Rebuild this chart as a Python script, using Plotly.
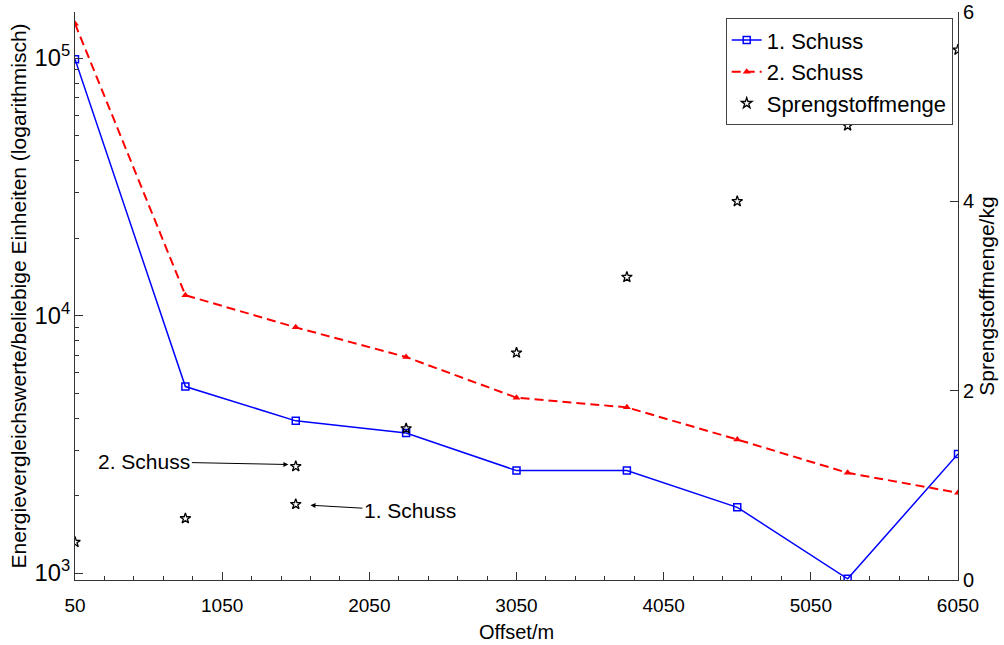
import plotly.graph_objects as go

# Data
offset = [50, 800, 1550, 2300, 3050, 3800, 4550, 5300, 6050]
schuss1 = [99000, 5300, 3900, 3500, 2500, 2500, 1800, 950, 2900]
schuss2 = [136000, 12000, 9000, 6900, 4800, 4400, 3300, 2450, 2050]
spreng_offset = [50, 800, 1550, 1550, 2300, 3050, 3800, 4550, 5300, 6050]
spreng_kg = [0.4, 0.65, 0.8, 1.2, 1.6, 2.4, 3.2, 4.0, 4.8, 5.6]
x_ticks = [50, 1050, 2050, 3050, 4050, 5050, 6050]

FONT = "Liberation Sans, Arial, Helvetica, sans-serif"
AXC = "#333333"

fig = go.Figure()
fig.add_trace(go.Scatter(
    x=offset, y=schuss1, name="1. Schuss", mode="lines+markers",
    line=dict(color="#0000ff", width=1.5),
    marker=dict(symbol="square-open", size=7, color="#0000ff", line=dict(width=1.5)),
))
fig.add_trace(go.Scatter(
    x=offset, y=schuss2, name="2. Schuss", mode="lines+markers",
    line=dict(color="#ff0000", width=2, dash="9px,5px"),
    marker=dict(symbol="triangle-up", size=7, color="#ff0000"),
))
fig.add_trace(go.Scatter(
    x=spreng_offset, y=spreng_kg, name="Sprengstoffmenge", mode="markers",
    yaxis="y2",
    marker=dict(symbol="star-open", size=8, color="black", line=dict(width=1.3)),
))

fig.update_layout(
    width=1004, height=645,
    margin=dict(l=75, r=46, t=12, b=65, autoexpand=False),
    plot_bgcolor="white", paper_bgcolor="white",
    font=dict(family=FONT, size=20, color="black"),
    showlegend=True,
    legend=dict(
        x=0.994, y=0.989, xanchor="right", yanchor="top",
        bordercolor="#444444", borderwidth=1, bgcolor="white",
        font=dict(size=22), tracegroupgap=0, itemwidth=30,
    ),
    xaxis=dict(
        range=[50, 6050], tickmode="array", tickvals=x_ticks,
        ticks="inside", ticklen=8, tickcolor=AXC, automargin=False,
        showline=True, linecolor=AXC, linewidth=1, showgrid=False, zeroline=False,
        tickfont=dict(size=19), ticklabelstandoff=8,
        minor=dict(ticks="inside", ticklen=4, tick0=50, dtick=200, tickcolor=AXC, showgrid=False),
        title=dict(text="Offset/m", font=dict(size=20), standoff=10),
    ),
    yaxis=dict(
        type="log", range=[2.973, 5.179], dtick=1,
        exponentformat="power", showexponent="all",
        ticks="inside", ticklen=8, tickcolor=AXC, automargin=False,
        showline=True, linecolor=AXC, linewidth=1, showgrid=False, zeroline=False,
        tickfont=dict(size=19),
        minor=dict(ticks="inside", ticklen=4, dtick="D1", tickcolor=AXC, showgrid=False),
        title=dict(text="Energievergleichswerte/beliebige Einheiten (logarithmisch)",
                   font=dict(size=21), standoff=2),
    ),
    yaxis2=dict(
        overlaying="y", side="right", range=[0, 6], dtick=2,
        ticks="inside", ticklen=8, tickcolor=AXC, automargin=False,
        showline=True, linecolor=AXC, linewidth=1, showgrid=False, zeroline=False,
        tickfont=dict(size=20),
        title=dict(text="Sprengstoffmenge/kg", font=dict(size=21), standoff=6),
    ),
)

fig.add_annotation(
    x=1500, y=1.22, xref="x", yref="y2",
    ax=522, ay=1.25, axref="x", ayref="y2",
    text="2. Schuss", showarrow=True, arrowhead=2, arrowsize=1, arrowwidth=1,
    arrowcolor="black", font=dict(size=21),
)
fig.add_annotation(
    x=1650, y=0.79, xref="x", yref="y2",
    ax=2326, ay=0.73, axref="x", ayref="y2",
    text="1. Schuss", showarrow=True, arrowhead=2, arrowsize=1, arrowwidth=1,
    arrowcolor="black", font=dict(size=21),
)

fig.write_html("out.html")
